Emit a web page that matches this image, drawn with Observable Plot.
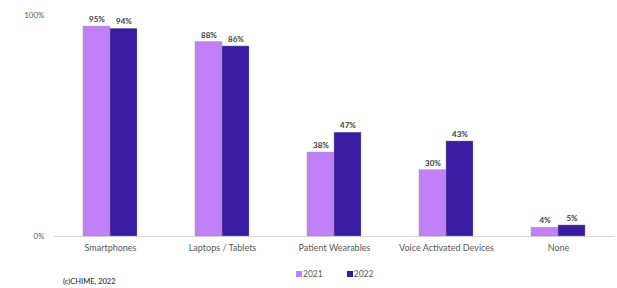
<!DOCTYPE html>
<html>
<head>
<meta charset="utf-8">
<script src="https://cdn.jsdelivr.net/npm/d3@7"></script>
<script src="https://cdn.jsdelivr.net/npm/@observablehq/plot@0.6"></script>
<style>
  html, body { margin: 0; padding: 0; background: #fff; }
  #wrap { position: relative; width: 617px; height: 288px; font-family: Lato, "Open Sans", sans-serif; }
  #legend { position: absolute; top: 269px; left: 296px; font-size: 8.5px; color: #595959; display: flex; align-items: center; }
  #legend .item { display: flex; align-items: center; margin-right: 24px; }
  #legend .sw { width: 6px; height: 6px; margin-right: 1px; }
  #caption { position: absolute; top: 277px; left: 63px; font-size: 7.5px; color: #404040; font-weight: 600; }
</style>
</head>
<body>
<div id="wrap">
  <div id="chart"></div>
  <div id="legend"></div>
  <div id="caption">(c)CHIME, 2022</div>
</div>
<script>
const categories = ["Smartphones", "Laptops / Tablets", "Patient Wearables", "Voice Activated Devices", "None"];
const years = ["2021", "2022"];
const values2021 = [0.95, 0.88, 0.38, 0.30, 0.04];
const values2022 = [0.94, 0.86, 0.47, 0.43, 0.05];
const colors = ["#c180f5", "#391ca1"];
const yTicks = [0, 1];

const d2021 = categories.map((c, i) => ({category: c, year: years[0], value: values2021[i]}));
const d2022 = categories.map((c, i) => ({category: c, year: years[1], value: values2022[i]}));
const half = 27;

const chart = Plot.plot({
  width: 617,
  height: 262,
  marginTop: 15,
  marginBottom: 26,
  marginLeft: 54,
  marginRight: 3,
  style: {fontFamily: "Lato, 'Open Sans', sans-serif", background: "#fff", overflow: "visible"},
  x: {domain: categories, paddingInner: 0.518, paddingOuter: 0.259, label: null},
  y: {domain: [0, 1], label: null},
  color: {domain: years, range: colors},
  marks: [
    Plot.axisY(yTicks, {tickSize: 0, tickPadding: 10, tickFormat: d3.format(".0%"), fontSize: 8, fill: "#595959", label: null}),
    Plot.axisX({tickSize: 0, tickPadding: 8, fontSize: 9, fill: "#595959", label: null}),
    Plot.ruleY([0], {stroke: "#d9d9d9", strokeWidth: 1}),
    Plot.barY(d2021, {x: "category", y: "value", fill: "year", stroke: "#9a9a9a", strokeWidth: 0.4, insetRight: half}),
    Plot.barY(d2022, {x: "category", y: "value", fill: "year", stroke: "#9a9a9a", strokeWidth: 0.4, insetLeft: half}),
    Plot.text(d2021, {x: "category", y: "value", text: d => Math.round(d.value * 100) + "%", dx: -half / 2, dy: -7, fontSize: 8, fontWeight: "bold", fill: "#404040"}),
    Plot.text(d2022, {x: "category", y: "value", text: d => Math.round(d.value * 100) + "%", dx: half / 2, dy: -7, fontSize: 8, fontWeight: "bold", fill: "#404040"})
  ]
});
document.getElementById("chart").appendChild(chart);

const legend = document.getElementById("legend");
years.forEach((y, i) => {
  const item = document.createElement("div");
  item.className = "item";
  const sw = document.createElement("span");
  sw.className = "sw";
  sw.style.background = colors[i];
  const t = document.createElement("span");
  t.textContent = y;
  item.appendChild(sw);
  item.appendChild(t);
  legend.appendChild(item);
});
</script>
</body>
</html>
